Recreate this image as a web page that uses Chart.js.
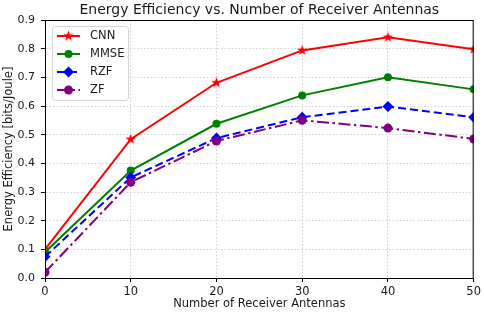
<!DOCTYPE html>
<html>
<head>
<meta charset="utf-8">
<script src="https://cdn.jsdelivr.net/npm/chart.js@4.4.0/dist/chart.umd.min.js"></script>
<style>
  html, body { margin: 0; padding: 0; background: #fff; }
  #wrap { width: 484px; height: 313px; }
</style>
</head>
<body>
<div id="wrap"><canvas id="ee-chart" width="484" height="313"></canvas></div>
<script>
const antennas = [0, 10, 20, 30, 40, 50]
const cnn = [0.100, 0.484, 0.681, 0.794, 0.840, 0.798]
const mmse = [0.090, 0.375, 0.538, 0.637, 0.700, 0.658]
const rzf = [0.074, 0.351, 0.488, 0.561, 0.598, 0.561]
const zf = [0.020, 0.334, 0.478, 0.550, 0.523, 0.485]
const seriesNames = ['CNN', 'MMSE', 'RZF', 'ZF']
const yTicks = [0, 0.1, 0.2, 0.3, 0.4, 0.5, 0.6, 0.7, 0.8, 0.9]

const FONT = "'DejaVu Sans', sans-serif"
const TXT = '#1a1a1a'

// filled 5 point star like matplotlib '*'
function makeStar(color, r) {
  const c = document.createElement('canvas')
  const s = Math.ceil(r * 2 + 2)
  c.width = s; c.height = s
  const g = c.getContext('2d')
  g.beginPath()
  for (let i = 0; i < 10; i++) {
    const rad = i % 2 === 0 ? r : r * 0.42
    const a = -Math.PI / 2 + i * Math.PI / 5
    const px = s / 2 + rad * Math.cos(a), py = s / 2 + rad * Math.sin(a)
    i === 0 ? g.moveTo(px, py) : g.lineTo(px, py)
  }
  g.closePath()
  g.fillStyle = color
  g.fill()
  return c
}
const star = makeStar('#ff0000', 5.5)

const styles = [
  { color: '#ff0000', dash: [], point: star, radius: 5 },
  { color: '#008000', dash: [], point: 'circle', radius: 4 },
  { color: '#0000ff', dash: [8, 4], point: 'rectRot', radius: 5.5 },
  { color: '#800080', dash: [12, 3.5, 2.5, 3.5], point: 'circle', radius: 4.5 }
]
const values = [cnn, mmse, rzf, zf]

function pts(arr) {
  return arr.map((v, i) => ({ x: antennas[i], y: v }))
}

const datasets = values.map((arr, k) => ({
  label: seriesNames[k],
  data: pts(arr),
  borderColor: styles[k].color,
  backgroundColor: styles[k].color,
  borderWidth: 2,
  borderDash: styles[k].dash,
  pointStyle: styles[k].point,
  pointRadius: styles[k].radius,
  pointBorderWidth: 0,
  tension: 0,
  order: 4 - k
}))

// frame, title and legend drawn the matplotlib way
const extras = {
  id: 'extras',
  afterDatasetsDraw(chart) {
    const { ctx, chartArea: a } = chart
    ctx.save()
    ctx.strokeStyle = '#000'
    ctx.lineWidth = 1
    ctx.setLineDash([])
    ctx.strokeRect(a.left + 0.5, a.top + 0.5, a.right - a.left - 1, a.bottom - a.top)

    ctx.fillStyle = TXT
    ctx.font = '14px ' + FONT
    ctx.textAlign = 'center'
    ctx.textBaseline = 'middle'
    ctx.fillText('Energy Efficiency vs. Number of Receiver Antennas', (a.left + a.right) / 2, 10)

    // legend
    const lx = a.left + 7, ly = a.top + 6, lw = 76, lh = 74
    ctx.beginPath()
    ctx.roundRect(lx + 0.5, ly + 0.5, lw, lh, 3)
    ctx.fillStyle = 'rgba(255,255,255,0.85)'
    ctx.fill()
    ctx.strokeStyle = '#d5d5d5'
    ctx.stroke()
    seriesNames.forEach((name, k) => {
      const st = styles[k]
      const y = ly + 10 + k * 18
      ctx.beginPath()
      ctx.setLineDash(st.dash)
      ctx.strokeStyle = st.color
      ctx.lineWidth = 2
      ctx.moveTo(lx + 5, y)
      ctx.lineTo(lx + 28, y)
      ctx.stroke()
      ctx.setLineDash([])
      ctx.fillStyle = st.color
      if (typeof st.point === 'string') {
        ctx.beginPath()
        if (st.point === 'circle') ctx.arc(lx + 16.5, y, st.radius, 0, Math.PI * 2)
        else {
          ctx.moveTo(lx + 16.5, y - st.radius); ctx.lineTo(lx + 16.5 + st.radius, y)
          ctx.lineTo(lx + 16.5, y + st.radius); ctx.lineTo(lx + 16.5 - st.radius, y)
          ctx.closePath()
        }
        ctx.fill()
      } else {
        ctx.drawImage(st.point, lx + 16.5 - st.point.width / 2, y - st.point.height / 2)
      }
      ctx.fillStyle = TXT
      ctx.font = '11.5px ' + FONT
      ctx.textAlign = 'left'
      ctx.fillText(name, lx + 38, y + 0.5)
    })
    ctx.restore()
  }
}

const gridOpts = { color: '#c4c4c4', lineWidth: 0.8, tickLength: 4, tickColor: '#000', tickBorderDash: [], tickWidth: 1 }
const borderOpts = { display: true, color: '#000', width: 1, dash: [1.5, 2] }

new Chart(document.getElementById('ee-chart'), {
  type: 'line',
  data: { datasets: datasets },
  options: {
    responsive: false,
    animation: false,
    events: [],
    layout: { padding: { top: 20, right: 8, left: 0, bottom: 0 } },
    plugins: { legend: { display: false }, tooltip: { enabled: false }, title: { display: false } },
    scales: {
      x: {
        type: 'linear',
        min: 0, max: 50,
        afterFit: s => { s.height = 35 },
        ticks: { stepSize: 10, color: TXT, font: { family: FONT, size: 11.5 }, padding: 3, maxRotation: 0 },
        grid: gridOpts,
        border: borderOpts,
        title: { display: true, text: 'Number of Receiver Antennas', color: TXT, font: { family: FONT, size: 11.5 }, padding: { top: 2, bottom: 2 } }
      },
      y: {
        min: 0, max: 0.9,
        afterFit: s => { s.width = 45 },
        afterBuildTicks: s => { s.ticks = yTicks.map(v => ({ value: v })) },
        ticks: { color: TXT, font: { family: FONT, size: 11 }, padding: 6, callback: v => v.toFixed(1) },
        grid: gridOpts,
        border: borderOpts,
        title: { display: true, text: 'Energy Efficiency [bits/Joule]', color: TXT, font: { family: FONT, size: 11.5 }, padding: { top: 2, bottom: 2 } }
      }
    }
  },
  plugins: [extras]
})
</script>
</body>
</html>
